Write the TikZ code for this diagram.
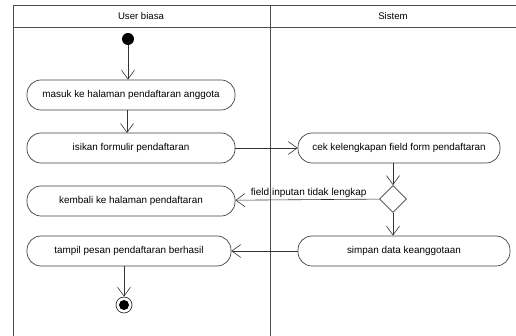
\documentclass[tikz,border=0pt]{standalone}
\usepackage{fontspec}
\setmainfont{Liberation Sans}
\usetikzlibrary{arrows.meta,shapes.geometric}

\tikzset{
  act/.style={draw=black!75, line width=0.7pt, rounded corners=14pt, minimum height=30pt, inner sep=0pt, font=\fontsize{9.9}{11}\selectfont},
  flow/.style={draw=black!80, line width=0.6pt, -{Straight Barb[length=9pt,width=13pt]}},
  lane/.style={draw=black!70, line width=0.8pt}
}

\begin{document}
\begin{tikzpicture}[x=1pt,y=-1pt]
    \useasboundingbox (0,0) rectangle (516,336);
    % swimlanes
    \draw[lane] (13,5) -- (516,5);
    \draw[lane] (13,27) -- (516,27);
    \draw[lane] (13,5) -- (13,336);
    \draw[lane] (270,5) -- (270,336);
    \node[font=\fontsize{9.6}{11}\selectfont] (user) at (141,16) {User biasa};
    \node[font=\fontsize{9.6}{11}\selectfont] (sistem) at (393,16) {Sistem};

    % activities
    \node[circle, fill=black, inner sep=0pt, minimum size=12pt] (start) at (128,39) {};
    \node[act, minimum width=208pt] (masuk) at (131,95) {masuk ke halaman pendaftaran anggota};
    \node[act, minimum width=208pt] (isikan) at (131,148) {isikan formulir pendaftaran};
    \node[act, minimum width=202pt] (cek) at (399,148) {cek kelengkapan field form pendaftaran};
    \node[diamond, draw=black!75, line width=0.7pt, minimum size=27pt, inner sep=0pt] (dec) at (393,199) {};
    \node[act, minimum width=208pt] (kembali) at (131,201) {kembali ke halaman pendaftaran};
    \node[act, minimum width=212pt] (simpan) at (404,251) {simpan data keanggotaan};
    \node[act, minimum width=204pt] (tampil) at (129,251) {tampil pesan pendaftaran berhasil};
    \node[circle, draw=black!80, line width=0.7pt, minimum size=16pt, inner sep=0pt] (akhir) at (124,305) {};
    \node[circle, fill=black, minimum size=10pt, inner sep=0pt] at (akhir) {};

    % flows
    \draw[flow] (start) -- (start |- masuk.north);
    \draw[flow] (127,110) -- (127,133);
    \draw[flow] (isikan) -- (cek);
    \draw[flow] (dec.north |- cek.south) -- (dec);
    \draw[flow] (dec) -- node[pos=0.49, above, inner sep=1.5pt, font=\fontsize{10}{11}\selectfont] {field inputan tidak lengkap} (kembali);
    \draw[flow] (dec) -- (dec |- simpan.north);
    \draw[flow] (simpan) -- (tampil);
    \draw[flow] (akhir |- tampil.south) -- (akhir);
\end{tikzpicture}
\end{document}
